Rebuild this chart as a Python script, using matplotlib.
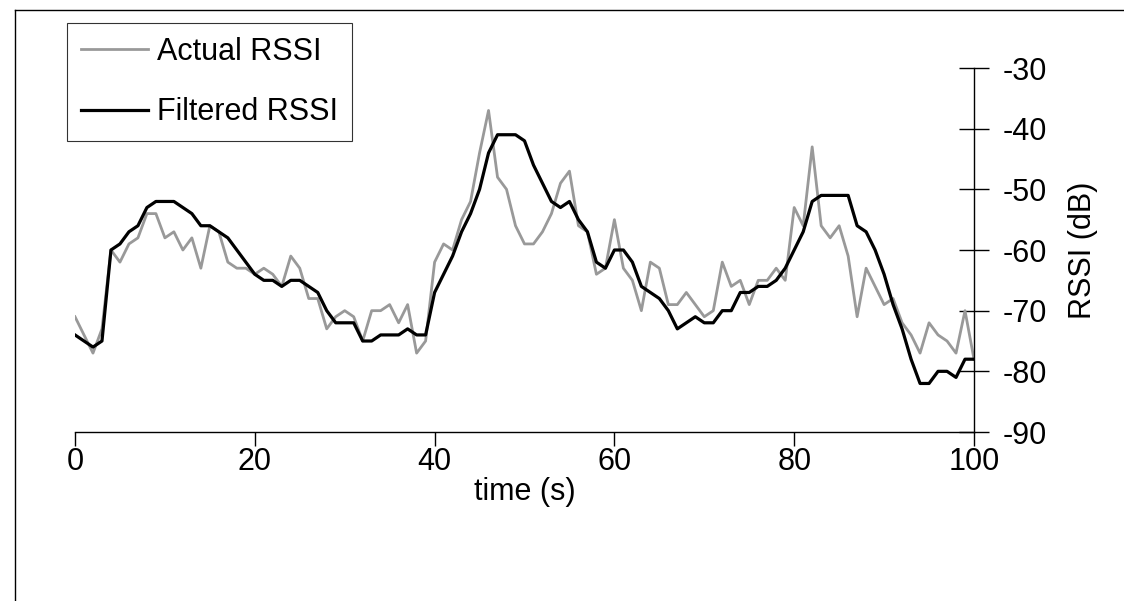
"""RSSI over time: raw readings vs filtered estimate."""

import numpy as np
import matplotlib
matplotlib.use("Agg")
import matplotlib.pyplot as plt
from matplotlib.lines import Line2D

plt.rcParams["font.family"] = ["Liberation Sans", "DejaVu Sans"]
plt.rcParams["axes.unicode_minus"] = False

# one sample per second, 0..100 s
time_s = np.arange(0, 101)

actual_rssi = [
    -71, -74, -77, -73, -60, -62, -59, -58, -54, -54,
    -58, -57, -60, -58, -63, -56, -57, -62, -63, -63,
    -64, -63, -64, -66, -61, -63, -68, -68, -73, -71,
    -70, -71, -75, -70, -70, -69, -72, -69, -77, -75,
    -62, -59, -60, -55, -52, -44, -37, -48, -50, -56,
    -59, -59, -57, -54, -49, -47, -56, -57, -64, -63,
    -55, -63, -65, -70, -62, -63, -69, -69, -67, -69,
    -71, -70, -62, -66, -65, -69, -65, -65, -63, -65,
    -53, -56, -43, -56, -58, -56, -61, -71, -63, -66,
    -69, -68, -72, -74, -77, -72, -74, -75, -77, -70,
    -78,
]

filtered_rssi = [
    -74, -75, -76, -75, -60, -59, -57, -56, -53, -52,
    -52, -52, -53, -54, -56, -56, -57, -58, -60, -62,
    -64, -65, -65, -66, -65, -65, -66, -67, -70, -72,
    -72, -72, -75, -75, -74, -74, -74, -73, -74, -74,
    -67, -64, -61, -57, -54, -50, -44, -41, -41, -41,
    -42, -46, -49, -52, -53, -52, -55, -57, -62, -63,
    -60, -60, -62, -66, -67, -68, -70, -73, -72, -71,
    -72, -72, -70, -70, -67, -67, -66, -66, -65, -63,
    -60, -57, -52, -51, -51, -51, -51, -56, -57, -60,
    -64, -69, -73, -78, -82, -82, -80, -80, -81, -78,
    -78,
]

FS = 22
W, H = 1124, 601
fig = plt.figure(figsize=(W / 100, H / 100), dpi=100)
ax = fig.add_axes([75 / W, 1 - 432 / H, (974 - 75) / W, (432 - 68) / H])

ax.plot(time_s, actual_rssi, color="#999999", lw=2.0, label="Actual RSSI")
ax.plot(time_s, filtered_rssi, color="black", lw=2.3, label="Filtered RSSI")

ax.set_xlim(0, 100)
ax.set_ylim(-90, -30)
ax.set_xticks(range(0, 101, 20))
ax.set_yticks(range(-90, -29, 10))

for side in ("top", "left"):
    ax.spines[side].set_visible(False)
for side in ("bottom", "right"):
    ax.spines[side].set_linewidth(1.0)

ax.yaxis.tick_right()
ax.yaxis.set_label_position("right")
ax.tick_params(axis="y", direction="inout", length=21, width=1.0, pad=10,
               labelsize=FS)
ax.tick_params(axis="x", direction="out", length=10, width=1.0, pad=1,
               labelsize=FS)

ax.set_xlabel("time (s)", fontsize=FS, labelpad=0)
ax.set_ylabel("RSSI (dB)", fontsize=FS, rotation=90, labelpad=15)

leg = ax.legend(loc="upper left", bbox_to_anchor=(67 / W, 1 - 23 / H),
                bbox_transform=fig.transFigure, fontsize=FS, frameon=True,
                fancybox=False, edgecolor="black", borderaxespad=0,
                handlelength=2.2, handletextpad=0.3, borderpad=0.45,
                labelspacing=1.0)
leg.get_frame().set_linewidth(0.8)

# chart-area border (top and left edges fall inside the image)
fig.add_artist(Line2D([14.5 / W, 14.5 / W], [1 - 9.5 / H, 0], color="black",
                      lw=1.0, transform=fig.transFigure))
fig.add_artist(Line2D([14.5 / W, 1], [1 - 9.5 / H, 1 - 9.5 / H], color="black",
                      lw=1.0, transform=fig.transFigure))

fig.savefig("out.png", dpi=100)
